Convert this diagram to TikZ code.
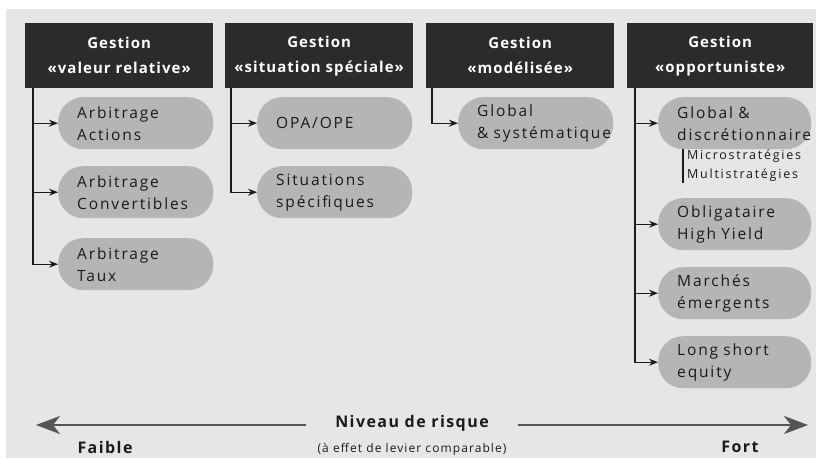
\documentclass[tikz,border=0pt]{standalone}
\usepackage{fontspec}
\setmainfont{Open Sans}
\usetikzlibrary{arrows.meta,calc}
\definecolor{bg}{HTML}{E6E6E6}
\definecolor{hdrfill}{HTML}{2B2B2B}
\definecolor{pillfill}{HTML}{B5B5B5}
\definecolor{ink}{HTML}{1A1A1A}
\definecolor{axis}{HTML}{555555}
\tikzset{
  hdr/.style={anchor=north west, fill=hdrfill, text=white, minimum width=188pt, minimum height=65pt,
    inner sep=0pt, align=center, font=\fontsize{15}{25}\selectfont\bfseries\addfontfeature{LetterSpace=7}},
  pill/.style={anchor=north west, fill=pillfill, text=ink, rounded corners=25pt, minimum height=52pt,
    inner xsep=19pt, inner ysep=0pt, text width=117pt, align=left,
    font=\fontsize{15.5}{22}\selectfont\addfontfeature{LetterSpace=12}},
  subtxt/.style={anchor=north west, text=ink, inner xsep=4pt, inner ysep=1pt, align=left,
    font=\fontsize{12.5}{19}\selectfont\addfontfeature{LetterSpace=14}},
  conn/.style={draw=ink, line width=1.1pt, -{Stealth[length=9pt,width=7pt]}},
  bigarrow/.style={draw=axis, line width=2.6pt, -{Stealth[length=24pt,width=18pt,inset=7pt]}},
  axislabel/.style={text=ink, font=\fontsize{16}{18}\selectfont\bfseries\addfontfeature{LetterSpace=9}, inner sep=1pt},
  smalllabel/.style={text=ink, font=\fontsize{12}{14}\selectfont\addfontfeature{LetterSpace=9}, inner sep=1pt}
}
\begin{document}
\begin{tikzpicture}[x=1pt,y=-1pt]
\useasboundingbox (0,0) rectangle (816,458);
\fill[bg] (6,9) rectangle (816,458);

% headers
\node[hdr] (h1) at (25,23) {Gestion\\«valeur relative»};
\node[hdr] (h2) at (225,23) {Gestion\\«situation spéciale»};
\node[hdr] (h3) at (426,23) {Gestion\\«modélisée»};
\node[hdr, minimum width=186pt] (h4) at (627,23) {Gestion\\«opportuniste»};

% pills
\node[pill] (p11) at (58,97) {Arbitrage\\Actions};
\node[pill] (p12) at (58,166) {Arbitrage\\Convertibles};
\node[pill] (p13) at (58,238) {Arbitrage\\Taux};
\node[pill] (p21) at (257,97) {OPA/OPE};
\node[pill] (p22) at (257,166) {Situations\\spécifiques};
\node[pill] (p31) at (458,97) {Global\\\mbox{\& systématique}};
\node[pill, text width=115pt] (p41) at (658,97) {Global \&\\\mbox{discrétionnaire}};
\node[pill, text width=115pt] (p42) at (658,198) {Obligataire\\High Yield};
\node[pill, text width=115pt] (p43) at (658,267) {Marchés\\émergents};
\node[pill, text width=115pt] (p44) at (658,336) {Long short\\equity};

\node[subtxt] (sub) at (683,149) {Microstratégies\\Multistratégies};
\draw[ink, line width=1.1pt] (sub.north west) -- (sub.south west);

% connectors
\coordinate (c1) at ($(h1.south west)+(8,0)$);
\coordinate (c2) at ($(h2.south west)+(6,0)$);
\coordinate (c3) at ($(h3.south west)+(6,0)$);
\coordinate (c4) at ($(h4.south west)+(8,0)$);
\draw[conn] (c1) |- (p11.west);
\draw[conn] (c1) |- (p12.west);
\draw[conn] (c1) |- (p13.west);
\draw[conn] (c2) |- (p21.west);
\draw[conn] (c2) |- (p22.west);
\draw[conn] (c3) |- (p31.west);
\draw[conn] (c4) |- (p41.west);
\draw[conn] (c4) |- (p42.west);
\draw[conn] (c4) |- (p43.west);
\draw[conn] (c4) |- (p44.west);

% risk axis
\node[axislabel] (niv) at (412,423) {Niveau de risque};
\node[smalllabel] (lev) at (412,449) {(à effet de levier comparable)};
\node[axislabel] (faible) at (105,447) {Faible};
\node[axislabel] (fort) at (740,447) {Fort};
\coordinate (ltip) at (36,425);
\coordinate (rtip) at (808,425);
\draw[bigarrow] ($(niv.west)+(-28,2)$) -- (ltip);
\draw[bigarrow] ($(niv.east)+(28,2)$) -- (rtip);
\end{tikzpicture}
\end{document}
